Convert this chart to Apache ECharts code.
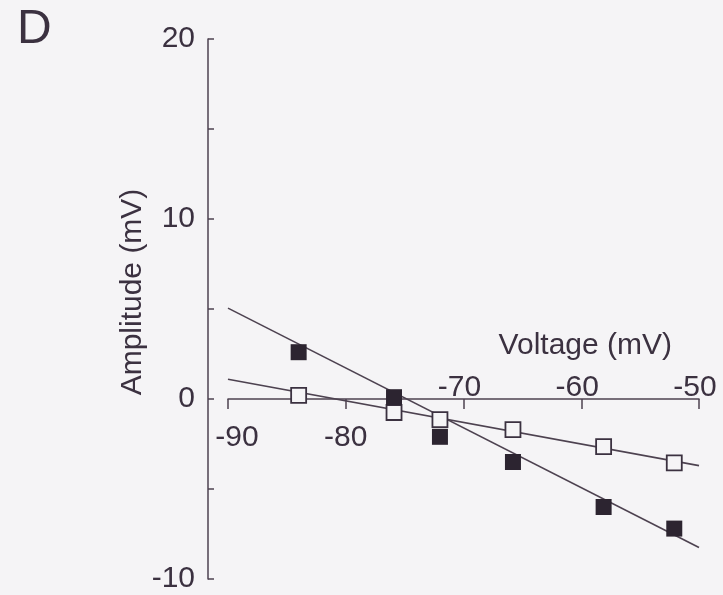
<!DOCTYPE html>
<html>
<head>
<meta charset="utf-8">
<script src="https://cdn.jsdelivr.net/npm/echarts@6/dist/echarts.min.js"></script>
<style>
  html, body { margin: 0; padding: 0; background: #f5f4f6; }
  #chart { width: 723px; height: 595px; }
</style>
</head>
<body>
<div id="chart"></div>
<script>
// Data
const panelLabel = 'D';
const xTicksBelow = [-90, -80];
const xTicksAbove = [-70, -60, -50];
const yTickLabels = [-10, 0, 10, 20];
const voltage = [-84, -75.9, -72, -65.8, -58.1, -52.1];
const filledAmp = [2.6, 0.1, -2.1, -3.5, -6.0, -7.2];
const openAmp = [0.2, -0.75, -1.15, -1.7, -2.65, -3.55];
const filledFitX = [-90, -50];
const filledFitY = [5.05, -8.25];
const openFitX = [-90, -50];
const openFitY = [1.1, -3.7];

const ink = '#3b3140';
const lineInk = '#4d4250';
const bg = '#f5f4f6';
const font = 'Liberation Sans, Arial, sans-serif';
const fs = 30;

const zip = (xs, ys) => xs.map((x, i) => [x, ys[i]]);

const chart = echarts.init(document.getElementById('chart'));

// grid geometry (pixels); the x axis sits at y = 0 of the value axis
const gridTop = 39, gridBottom = 16, gridH = 595 - gridTop - gridBottom;
const yMin = -10, yMax = 20;
const zeroFromBottom = gridH * (0 - yMin) / (yMax - yMin);
const zeroFromTop = gridH - zeroFromBottom;

chart.setOption({
  backgroundColor: bg,
  animation: false,
  title: {
    text: panelLabel, left: 12, top: 1,
    textStyle: { fontFamily: font, fontSize: 48, fontWeight: 'normal', color: ink }
  },
  grid: { left: 228, right: 24, top: gridTop, bottom: gridBottom, containLabel: false, outerBoundsMode: 'none' },
  xAxis: [
    {
      type: 'value', position: 'bottom', min: -90, max: -50, interval: 10,
      offset: -zeroFromBottom,
      axisLine: { onZero: false, lineStyle: { color: lineInk, width: 1.5 } },
      axisTick: { show: true, inside: false, length: 10, lineStyle: { color: lineInk, width: 1.5 } },
      splitLine: { show: false },
      axisLabel: {
        margin: 24, fontFamily: font, fontSize: fs, color: ink,
        formatter: v => {
          if (xTicksBelow.indexOf(v) < 0) return '';
          return v === xTicksBelow[0] ? '{first|' + v + '}' : String(v);
        },
        rich: { first: { fontFamily: font, fontSize: fs, color: ink, padding: [0, 0, 0, 18] } }
      }
    },
    {
      type: 'value', position: 'top', min: -90, max: -50, interval: 10,
      offset: -zeroFromTop,
      axisLine: { show: false, onZero: false },
      axisTick: { show: false },
      splitLine: { show: false },
      axisLabel: {
        margin: -4, fontFamily: font, fontSize: fs, color: ink, padding: [0, 8, 0, 0],
        formatter: v => xTicksAbove.indexOf(v) >= 0 ? String(v) : ''
      },
      name: 'Voltage (mV)', nameLocation: 'end', nameGap: -27, nameMoveOverlap: false,
      nameTextStyle: {
        fontFamily: font, fontSize: fs, color: ink,
        align: 'right', verticalAlign: 'bottom', padding: [0, 0, 38, 0]
      }
    }
  ],
  yAxis: {
    type: 'value', min: yMin, max: yMax, interval: 5, offset: 20,
    axisLine: { show: true, onZero: false, lineStyle: { color: lineInk, width: 1.5 } },
    axisTick: { show: true, inside: true, length: 6, lineStyle: { color: lineInk, width: 1.5 } },
    splitLine: { show: false },
    axisLabel: {
      margin: 13, fontFamily: font, fontSize: fs, color: ink,
      formatter: v => yTickLabels.indexOf(v) >= 0 ? String(v) : ''
    },
    name: 'Amplitude (mV)', nameLocation: 'middle', nameGap: 60, nameMoveOverlap: false,
    nameTextStyle: { fontFamily: font, fontSize: fs, color: ink, padding: [0, 0, 0, 34] }
  },
  series: [
    {
      type: 'line', data: zip(filledFitX, filledFitY), symbol: 'none',
      lineStyle: { color: lineInk, width: 1.6 }, z: 2
    },
    {
      type: 'line', data: zip(openFitX, openFitY), symbol: 'none',
      lineStyle: { color: lineInk, width: 1.6 }, z: 2
    },
    {
      type: 'scatter', data: zip(voltage, filledAmp), symbol: 'rect', symbolSize: 16,
      itemStyle: { color: '#2c2430', opacity: 1 }, z: 5
    },
    {
      type: 'scatter', data: zip(voltage, openAmp), symbol: 'rect', symbolSize: 15,
      itemStyle: { color: bg, borderColor: '#3b3140', borderWidth: 1.8, opacity: 1 }, z: 4
    }
  ]
});
</script>
</body>
</html>
